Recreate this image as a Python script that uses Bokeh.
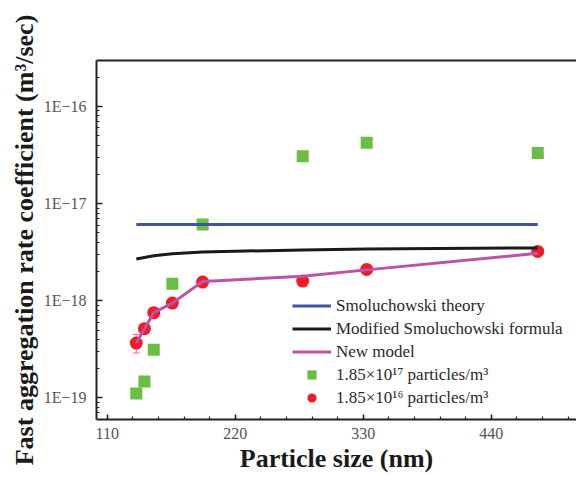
from bokeh.plotting import figure
from bokeh.models import (ColumnDataSource, LinearAxis, LogTicker, SingleIntervalTicker,
                          FixedTicker, CustomJSTickFormatter, Legend, LegendItem, Whisker,
                          TeeHead, Range1d)
from bokeh.embed import file_html
from bokeh.resources import INLINE

# ---- data ----
size_nm = [135, 142, 150, 166, 192, 278, 333, 480]
k_high_conc = [1.11e-19, 1.48e-19, 3.14e-19, 1.50e-18, 6.11e-18, 3.08e-17, 4.24e-17, 3.31e-17]
k_low_conc = [3.67e-19, 5.16e-19, 7.55e-19, 9.46e-19, 1.556e-18, 1.595e-18, 2.10e-18, 3.22e-18]

err_x = [135]
err_upper = [4.5e-19]
err_lower = [2.9e-19]

theory_x = [135, 480]
theory_y = [6.1e-18, 6.1e-18]

modified_x = [135, 150, 166, 192, 278, 333, 480]
modified_y = [2.69e-18, 2.90e-18, 3.05e-18, 3.18e-18, 3.34e-18, 3.42e-18, 3.50e-18]

new_model_x = [135, 142, 150, 166, 192, 278, 333, 480]
new_model_y = [3.67e-19, 5.16e-19, 7.55e-19, 9.46e-19, 1.58e-18, 1.79e-18, 2.08e-18, 3.08e-18]

x_ticks_interval = 110
labels = ["Smoluchowski theory", "Modified Smoluchowski formula", "New model",
          "1.85×10¹⁷ particles/m³", "1.85×10¹⁶ particles/m³"]

SERIF = "Liberation Serif"

p = figure(width=576, height=477,
           x_range=Range1d(100.8, 513.3), y_range=Range1d(6.0e-20, 2.97e-16),
           y_axis_type="log", output_backend="svg", toolbar_location=None,
           min_border_left=96, min_border_right=0, min_border_top=60, min_border_bottom=58)
p.xgrid.visible = False
p.ygrid.visible = False
p.outline_line_color = None
p.background_fill_color = "white"

# markers first, then lines on top
sq = p.scatter(size_nm, k_high_conc, marker="square", size=12, fill_color="#6bbd45", line_color=None)
src_err = ColumnDataSource(dict(base=err_x, upper=err_upper, lower=err_lower))
wh = Whisker(source=src_err, base="base", upper="upper", lower="lower", dimension="height",
             line_color="#f07070", line_width=1,
             upper_head=TeeHead(size=7, line_color="#f07070", line_width=1),
             lower_head=TeeHead(size=7, line_color="#f07070", line_width=1))
p.add_layout(wh)
ci = p.scatter(size_nm, k_low_conc, marker="circle", size=13, fill_color="#ee1d25", line_color=None)

l1 = p.line(theory_x, theory_y, line_color="#3d55a5", line_width=3)
l2 = p.line(modified_x, modified_y, line_color="#1a1a1a", line_width=3)
l3 = p.line(new_model_x, new_model_y, line_color="#bd52a6", line_width=3)

legend = Legend(items=[LegendItem(label=labels[0], renderers=[l1]),
                       LegendItem(label=labels[1], renderers=[l2]),
                       LegendItem(label=labels[2], renderers=[l3]),
                       LegendItem(label=labels[3], renderers=[sq]),
                       LegendItem(label=labels[4], renderers=[ci])],
                location=(196, 10), orientation="vertical",
                background_fill_alpha=0, border_line_color=None,
                label_text_font=SERIF, label_text_font_size="17px", label_text_color="#2a2a2a",
                glyph_width=39, glyph_height=23, spacing=0, padding=5, margin=0,
                label_standoff=5)
p.add_layout(legend)

# axes
for ax in (p.xaxis[0], p.yaxis[0]):
    ax.axis_line_color = "#222222"
    ax.axis_line_width = 2
    ax.major_tick_line_color = "#222222"
    ax.minor_tick_line_color = "#222222"
    ax.major_tick_line_width = 1.5
    ax.minor_tick_line_width = 1.2
    ax.major_tick_out = 0
    ax.minor_tick_out = 0
    ax.major_label_text_font = SERIF
    ax.major_label_text_font_size = "16px"
    ax.major_label_text_color = "#555555"
    ax.axis_label_text_font = SERIF
    ax.axis_label_text_font_style = "bold"
    ax.axis_label_text_color = "#1a1a1a"

xa = p.xaxis[0]
xa.ticker = SingleIntervalTicker(interval=x_ticks_interval, num_minor_ticks=5)
xa.major_tick_in = 5
xa.minor_tick_in = 3
xa.major_label_standoff = 8
xa.axis_label = "Particle size (nm)"
xa.axis_label_text_font_size = "26px"
xa.axis_label_standoff = 2

ya = p.yaxis[0]
ya.ticker = LogTicker(num_minor_ticks=10)
ya.formatter = CustomJSTickFormatter(code="return '1E\u2212' + Math.round(-Math.log10(tick));")
ya.major_tick_in = 6
ya.minor_tick_in = 3
ya.major_label_standoff = 10
ya.axis_label = "Fast aggregation rate coefficient (m³/sec)"
ya.axis_label_text_font_size = "26px"
ya.axis_label_standoff = 2

top = LinearAxis(ticker=FixedTicker(ticks=[]), axis_line_color="#222222", axis_line_width=2,
                 major_tick_in=0, major_tick_out=0, minor_tick_in=0, minor_tick_out=0,
                 major_label_text_font_size="0px")
p.add_layout(top, "above")

open("out.html", "w").write(file_html(p, INLINE))
